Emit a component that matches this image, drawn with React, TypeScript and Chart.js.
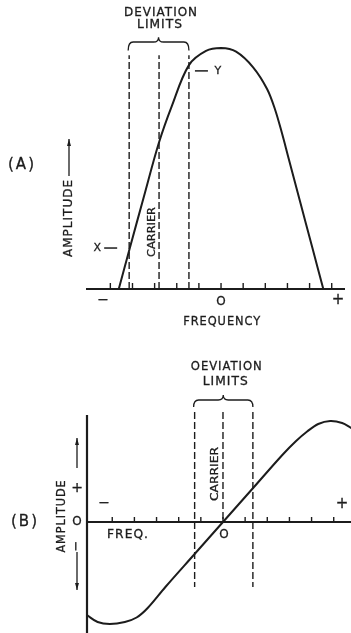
import { useEffect, useRef } from 'react';
import { Chart, registerables } from 'chart.js';

Chart.register(...registerables);

// ---------- DATA ----------
// Panel (A): response curve (frequency in tick units, amplitude 0..10)
const curveAFreq = [-4.62, -4.12, -3.48, -2.81, -2.22, -1.45, -0.68, 0, 0.68, 1.45, 2.08, 2.44, 2.76, 3.03, 3.57, 4.12, 4.62];
const curveAAmp = [0, 1.7, 3.85, 6.06, 7.6, 9.29, 9.88, 10, 9.85, 9.2, 8.3, 7.45, 6.44, 5.5, 3.63, 1.73, 0];
const freqTicks = [-5, -4, -3, -2, -1, 0, 1, 2, 3, 4, 5];
const deviationA = [-4.15, -2.8, -1.45]; // lower limit, carrier, upper limit
const markX = 1.7; // amplitude at point X
const markY = 9.05; // amplitude at point Y

// Panel (B): discriminator S-curve (frequency in tick units, amplitude -10..10)
const curveBFreq = [-6.15, -5.66, -5.11, -4.43, -3.9, -3.4, -2.6, -1.3, 0, 1.36, 2.7, 3.3, 3.8, 4.3, 4.84, 5.38, 5.79];
const curveBAmp = [-9.3, -10.0, -10.2, -10.0, -9.55, -8.6, -6.5, -3.25, 0, 3.4, 6.75, 8.1, 9.05, 9.8, 10.1, 9.9, 9.4];
const deviationB = [-1.28, 0, 1.35];

const INK = '#1c1c1c';
const FONT = '"DejaVu Sans", sans-serif';

function label(ctx: CanvasRenderingContext2D, text: string, x: number, y: number, size: number, opts: { rot?: boolean; w?: number; spacing?: number } = {}) {
  ctx.save();
  ctx.translate(x, y);
  if (opts.rot) ctx.rotate(-Math.PI / 2);
  ctx.font = `${size}px ${FONT}`;
  ctx.fillStyle = INK;
  ctx.strokeStyle = INK;
  ctx.lineWidth = 0.3;
  ctx.textAlign = 'center';
  ctx.textBaseline = 'middle';
  (ctx as any).letterSpacing = `${opts.spacing ?? 0}px`;
  if (opts.w) {
    const m = ctx.measureText(text).width;
    ctx.scale(opts.w / m, 1);
  }
  ctx.fillText(text, 0, 0);
  ctx.strokeText(text, 0, 0);
  ctx.restore();
}

function line(ctx: CanvasRenderingContext2D, x1: number, y1: number, x2: number, y2: number, w: number, dash: number[] = []) {
  ctx.save();
  ctx.strokeStyle = INK;
  ctx.lineWidth = w;
  ctx.setLineDash(dash);
  ctx.beginPath();
  ctx.moveTo(x1, y1);
  ctx.lineTo(x2, y2);
  ctx.stroke();
  ctx.restore();
}

function arrow(ctx: CanvasRenderingContext2D, x: number, yFrom: number, yTo: number) {
  line(ctx, x, yFrom, x, yTo, 1.3);
  const d = yTo < yFrom ? 1 : -1;
  ctx.save();
  ctx.fillStyle = INK;
  ctx.beginPath();
  ctx.moveTo(x, yTo);
  ctx.lineTo(x - 2, yTo + d * 7);
  ctx.lineTo(x + 2, yTo + d * 7);
  ctx.closePath();
  ctx.fill();
  ctx.restore();
}

function brace(ctx: CanvasRenderingContext2D, x1: number, x2: number, yTop: number, yEnd: number, yNotch: number) {
  const xm = (x1 + x2) / 2;
  const r = 5;
  ctx.save();
  ctx.strokeStyle = INK;
  ctx.lineWidth = 1.3;
  ctx.beginPath();
  ctx.moveTo(x1, yEnd);
  ctx.quadraticCurveTo(x1, yTop, x1 + r, yTop);
  ctx.lineTo(xm - r, yTop);
  ctx.quadraticCurveTo(xm, yTop, xm, yNotch);
  ctx.quadraticCurveTo(xm, yTop, xm + r, yTop);
  ctx.lineTo(x2 - r, yTop);
  ctx.quadraticCurveTo(x2, yTop, x2, yEnd);
  ctx.stroke();
  ctx.restore();
}

const DASH = [7, 3];

const panelAPlugin = {
  id: 'panelA',
  beforeDatasetsDraw(chart: any) {
    const ctx: CanvasRenderingContext2D = chart.ctx;
    const xs = chart.scales.x;
    const ys = chart.scales.y;
    const X = (v: number) => xs.getPixelForValue(v);
    const Y = (v: number) => ys.getPixelForValue(v);
    const y0 = Y(0);
    line(ctx, X(xs.min), y0, X(xs.max), y0, 2.2);
    freqTicks.forEach((t) => line(ctx, X(t), y0, X(t), y0 - 6, 1.4));
    deviationA.forEach((d) => line(ctx, X(d), y0, X(d), Y(9.7), 1.4, DASH));
    brace(ctx, X(deviationA[0]) - 1, X(deviationA[2]), Y(10.25), Y(9.9), Y(10.45));
  },
  afterDatasetsDraw(chart: any) {
    const ctx: CanvasRenderingContext2D = chart.ctx;
    const xs = chart.scales.x;
    const ys = chart.scales.y;
    const X = (v: number) => xs.getPixelForValue(v);
    const Y = (v: number) => ys.getPixelForValue(v);
    const y0 = Y(0);
    label(ctx, '−', X(-5.33), y0 + 11, 14);
    label(ctx, 'O', X(0), y0 + 13, 12);
    label(ctx, '+', X(5.28), y0 + 11, 15);
    label(ctx, 'FREQUENCY', X(0.05), y0 + 33, 12, { w: 78, spacing: 1 });
    const xm = (X(deviationA[0]) + X(deviationA[2])) / 2;
    label(ctx, 'DEVIATION', xm + 2, 13, 12, { w: 74, spacing: 1 });
    label(ctx, 'LIMITS', xm + 1, 25, 12, { w: 46, spacing: 1 });
    const xR = X(deviationA[2]);
    line(ctx, xR + 6, Y(markY), xR + 19, Y(markY), 1.5);
    label(ctx, 'Y', xR + 29, Y(markY), 11);
    const xL = X(deviationA[0]);
    line(ctx, xL - 25, Y(markX), xL - 12, Y(markX), 1.5);
    label(ctx, 'X', xL - 32, Y(markX), 11);
    label(ctx, 'CARRIER', X(deviationA[1]) - 7, 232, 11, { rot: true, w: 50 });
    label(ctx, 'AMPLITUDE', 69, 218, 12, { rot: true, w: 78, spacing: 1 });
    arrow(ctx, 69, 176, 139);
    label(ctx, '(A)', 22, 165, 15, { spacing: 2 });
  },
};

const panelBPlugin = {
  id: 'panelB',
  beforeDatasetsDraw(chart: any) {
    const ctx: CanvasRenderingContext2D = chart.ctx;
    const xs = chart.scales.x;
    const ys = chart.scales.y;
    const X = (v: number) => xs.getPixelForValue(v);
    const Y = (v: number) => ys.getPixelForValue(v);
    const y0 = Y(0);
    const xa = X(xs.min);
    line(ctx, xa, Y(10.7), xa, chart.height, 2.2);
    line(ctx, xa, y0, X(xs.max), y0, 2.2);
    freqTicks.forEach((t) => line(ctx, X(t), y0, X(t), y0 - 5, 1.4));
    line(ctx, X(deviationB[0]), Y(11), X(deviationB[0]), Y(-6.5), 1.4, DASH);
    line(ctx, X(deviationB[1]), Y(11), X(deviationB[1]), y0, 1.4, DASH);
    line(ctx, X(deviationB[2]), Y(11), X(deviationB[2]), Y(-6.5), 1.4, DASH);
    brace(ctx, X(deviationB[0]) - 1, X(deviationB[2]), Y(12.2), Y(11.5), Y(12.7));
  },
  afterDatasetsDraw(chart: any) {
    const ctx: CanvasRenderingContext2D = chart.ctx;
    const xs = chart.scales.x;
    const ys = chart.scales.y;
    const X = (v: number) => xs.getPixelForValue(v);
    const Y = (v: number) => ys.getPixelForValue(v);
    const y0 = Y(0);
    label(ctx, '−', X(-5.37), y0 - 19, 14);
    label(ctx, '+', X(5.37), y0 - 18, 15);
    label(ctx, 'O', X(0.05), y0 + 13, 12);
    label(ctx, 'FREQ.', 128, y0 + 13, 12, { w: 42, spacing: 1 });
    const xm = (X(deviationB[0]) + X(deviationB[2])) / 2;
    label(ctx, 'OEVIATION', xm + 3, 37, 12, { w: 72, spacing: 1 });
    label(ctx, 'LIMITS', xm + 2, 52, 12, { w: 46, spacing: 1 });
    label(ctx, 'CARRIER', X(deviationB[1]) - 8, 144, 11, { rot: true, w: 54 });
    label(ctx, 'AMPLITUDE', 62, 186, 12, { rot: true, w: 73, spacing: 1 });
    label(ctx, '+', 77, 158, 14);
    label(ctx, 'O', 77, 192, 12);
    label(ctx, '−', 77, 216, 13, { rot: true });
    arrow(ctx, 77, 138, 108);
    arrow(ctx, 77, 222, 260);
    label(ctx, '(B)', 25, 192, 15, { spacing: 2 });
  },
};

function makeChart(canvas: HTMLCanvasElement, fx: number[], fy: number[], xMin: number, xMax: number, yMin: number, yMax: number, padding: any, plugin: any) {
  return new Chart(canvas, {
    type: 'line',
    data: {
      datasets: [
        {
          data: fx.map((x, i) => ({ x, y: fy[i] })),
          borderColor: INK,
          borderWidth: 2,
          pointRadius: 0,
          fill: false,
          tension: 0.35,
          clip: false as any,
        },
      ],
    },
    options: {
      responsive: false,
      devicePixelRatio: 1,
      animation: false,
      layout: { padding },
      plugins: { legend: { display: false }, tooltip: { enabled: false } },
      events: [],
      scales: {
        x: { type: 'linear', display: false, min: xMin, max: xMax },
        y: { type: 'linear', display: false, min: yMin, max: yMax },
      },
    },
    plugins: [plugin],
  } as any);
}

export default function App() {
  const refA = useRef<HTMLCanvasElement>(null);
  const refB = useRef<HTMLCanvasElement>(null);
  useEffect(() => {
    document.body.style.margin = '0';
    const a = makeChart(refA.current!, curveAFreq, curveAAmp, -6.1, 5.6, 0, 10, { left: 86, right: 6, top: 48, bottom: 41 }, panelAPlugin);
    const b = makeChart(refB.current!, curveBFreq, curveBAmp, -6.14, 5.78, -11, 11, { left: 87, right: 0, top: 82, bottom: 1 }, panelBPlugin);
    return () => {
      a.destroy();
      b.destroy();
    };
  }, []);
  return (
    <div style={{ position: 'absolute', left: 0, top: 0, width: 351, height: 633, background: '#fff' }}>
      <canvas ref={refA} width={351} height={330} style={{ display: 'block' }} />
      <canvas ref={refB} width={351} height={303} style={{ display: 'block' }} />
    </div>
  );
}
